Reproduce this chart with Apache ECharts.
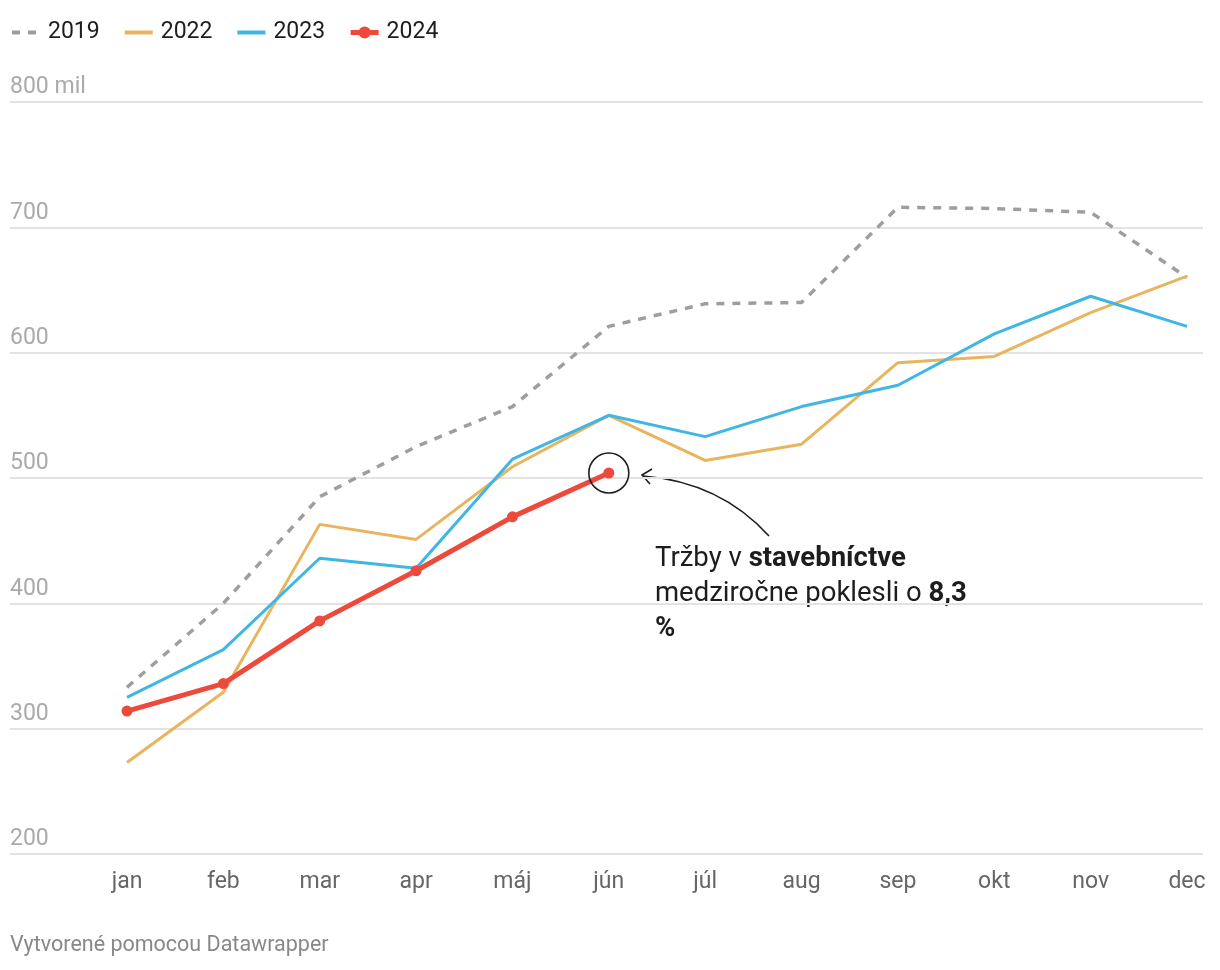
<!DOCTYPE html>
<html>
<head>
<meta charset="utf-8">
<script src="https://cdn.jsdelivr.net/npm/echarts@6/dist/echarts.min.js"></script>
<style>
html,body{margin:0;padding:0;background:#fff;}
#c{width:1220px;height:970px;}
</style>
</head>
<body>
<div id="c"></div>
<script>
const months = ['jan','feb','mar','apr','máj','jún','júl','aug','sep','okt','nov','dec'];
const v2019 = [333, 400, 485, 525, 557, 621, 639, 640, 716, 715, 712, 660];
const v2022 = [273, 329, 463, 451, 509, 550, 514, 527, 592, 597, 632, 661];
const v2023 = [325, 363, 436, 428, 515, 550, 533, 557, 574, 615, 645, 621];
const v2024 = [314, 336, 386, 426, 469, 504];

const F = 'Roboto, "Noto Sans", sans-serif';
const pts = arr => arr.map((v, i) => [i, v]);
const hidden = {opacity: 0};

const chart = echarts.init(document.getElementById('c'), null, {renderer: 'canvas'});
chart.setOption({
  animation: false,
  backgroundColor: '#fff',
  textStyle: {fontFamily: F},
  legend: {
    left: 5, top: 16,
    itemWidth: 28, itemHeight: 15, itemGap: 23,
    textStyle: {fontFamily: F, fontSize: 23, color: '#1d1d1d', padding: [0, 0, 0, 3]},
    data: [
      {name: '2019', itemStyle: hidden, lineStyle: {width: 4}},
      {name: '2022', itemStyle: hidden, lineStyle: {width: 4}},
      {name: '2023', itemStyle: hidden, lineStyle: {width: 4}},
      {name: '2024', lineStyle: {width: 5}}
    ]
  },
  grid: {left: 10, right: 17, top: 102, bottom: 116},
  xAxis: {
    type: 'value',
    min: -1.214, max: 11.166,
    axisLine: {show: false},
    axisTick: {show: false},
    splitLine: {show: false},
    axisLabel: {
      customValues: months.map((m, i) => i),
      formatter: v => months[Math.round(v)],
      fontFamily: F, fontSize: 23, color: '#666', margin: 17
    }
  },
  yAxis: {
    type: 'value', min: 200, max: 800, interval: 100,
    axisLine: {show: false}, axisTick: {show: false},
    splitLine: {lineStyle: {color: '#e3e3e3', width: 2}},
    axisLabel: {
      inside: true, margin: 0, verticalAlign: 'bottom',
      padding: [0, 0, 3, 0],
      fontFamily: F, fontSize: 23, color: '#aaaaaa',
      formatter: v => (v === 800 ? '800 mil' : String(v))
    }
  },
  series: [
    {name: '2019', type: 'line', data: pts(v2019), symbol: 'none',
     lineStyle: {color: '#9e9e9e', width: 3.5, type: [8, 8]}, itemStyle: {color: '#9e9e9e'}},
    {name: '2022', type: 'line', data: pts(v2022), symbol: 'none',
     lineStyle: {color: '#e8b55e', width: 3}, itemStyle: {color: '#e8b55e'}},
    {name: '2023', type: 'line', data: pts(v2023), symbol: 'none',
     lineStyle: {color: '#3fb6e3', width: 3}, itemStyle: {color: '#3fb6e3'}},
    {name: '2024', type: 'line', data: pts(v2024), symbol: 'circle', symbolSize: 11,
     lineStyle: {color: '#ee4a3b', width: 5}, itemStyle: {color: '#ee4a3b'},
     markPoint: {
       silent: true,
       symbol: 'circle', symbolSize: 40,
       itemStyle: {color: 'rgba(0,0,0,0)', borderColor: '#1d1d1d', borderWidth: 1.6},
       label: {show: false},
       data: [{coord: [5, v2024[5]]}]
     }}
  ],
  graphic: [
    {type: 'bezierCurve', silent: true,
     shape: {x1: 769, y1: 536, cpx1: 720, cpy1: 482, x2: 643, y2: 476},
     style: {stroke: '#1d1d1d', lineWidth: 1.6, fill: null}},
    {type: 'polyline', silent: true,
     shape: {points: [[652, 469], [642, 475], [650, 484]]},
     style: {stroke: '#1d1d1d', lineWidth: 1.6, fill: null}},
    {type: 'text', silent: true, left: 655, top: 542,
     style: {
       text: 'Tržby v {b|stavebníctve}\nmedziročne poklesli o {b|8,3}\n{b|%}',
       fontFamily: F, fontSize: 27.5, fill: '#1d1d1d', lineHeight: 35,
       rich: {b: {fontFamily: F, fontSize: 27.5, fontWeight: 'bold', fill: '#1d1d1d', lineHeight: 35}}
     }},
    {type: 'text', silent: true, left: 10, top: 935,
     style: {text: 'Vytvorené pomocou Datawrapper', fontFamily: F, fontSize: 21.5, fill: '#888'}}
  ]
});
</script>
</body>
</html>
